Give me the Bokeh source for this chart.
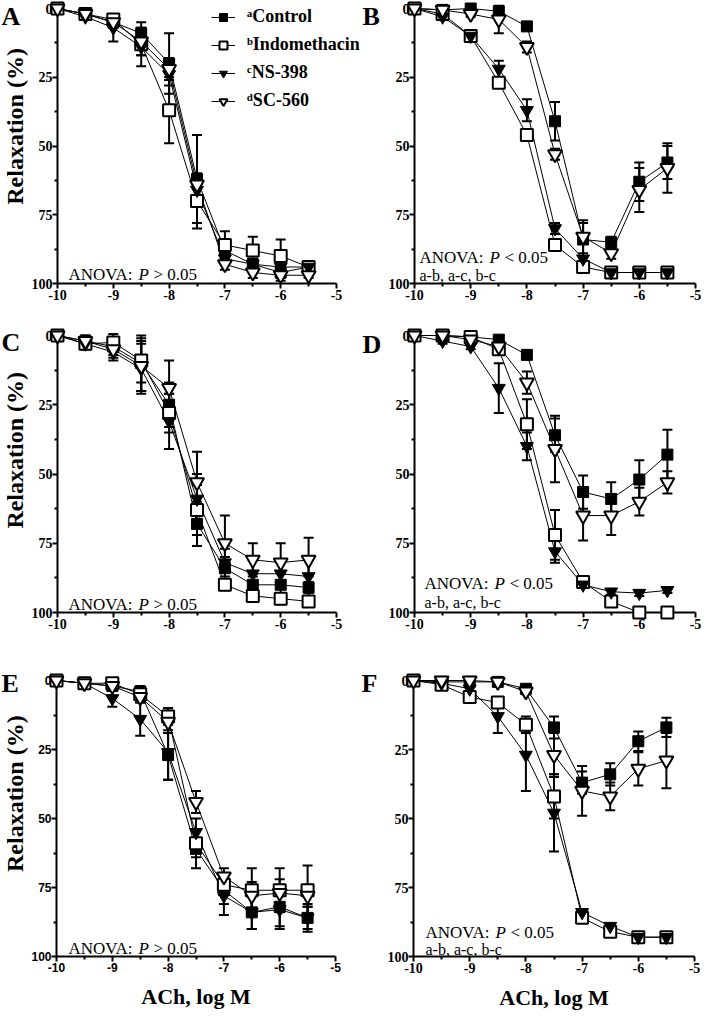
import math
from bokeh.plotting import figure
from bokeh.models import (Range1d, FixedTicker, Whisker, TeeHead, ColumnDataSource,
                          Label, Legend, LegendItem)
from bokeh.layouts import row, column
from bokeh.embed import file_html
from bokeh.resources import INLINE

# ---------------- data ----------------
log_ach = [-10.0, -9.5, -9.0, -8.5, -8.0, -7.5, -7.0, -6.5, -6.0, -5.5]
series_labels = ["\u1d43Control", "\u1d47Indomethacin", "\u1d9cNS-398", "\u1d48SC-560"]
x_ticks = [-10, -9, -8, -7, -6, -5]
x_minor_ticks = [-9.5, -8.5, -7.5, -6.5, -5.5]
y_ticks = [0, 25, 50, 75, 100]
y_minor_ticks = [12.5, 37.5, 62.5, 87.5]

a_control = [0, 2, 5, 9, 20, 62, 88, 93, 96, 94]
a_control_sem = [0, 1, 2, 4, 11, 16, 3, 2, 2, 2]
a_indo = [0, 2, 4, 13, 37, 70, 86, 88, 90, 94]
a_indo_sem = [0, 1, 2, 4, 12, 10, 5, 5, 6, 2]
a_ns = [0, 3, 7, 14, 24, 66, 91, 93, 94, 94]
a_ns_sem = [0, 1, 5, 7, 4, 5, 2, 2, 2, 1]
a_sc = [0, 2, 5, 12, 22, 64, 93, 96, 97, 97]
a_sc_sem = [0, 1, 2, 5, 4, 4, 2, 2, 2, 1]

b_control = [0, 0.5, 0, 1, 6.5, 41, 84, 85, 63, 56]
b_control_sem = [0, 0.5, 0.5, 1, 1, 7, 6, 2, 7, 6]
b_indo = [0, 2, 10, 27, 46, 86, 94, 96, 96, 96]
b_indo_sem = [0, 1, 1, 1, 1, 1, 1, 1, 1, 1]
b_ns = [0, 3, 10, 22, 37, 80, 91, 96, 96, 96]
b_ns_sem = [0, 1, 1, 3, 4, 2, 1, 1, 1, 1]
b_sc = [0, 0.5, 2, 4, 14, 53, 83, 89, 66, 58]
b_sc_sem = [0, 0.5, 1, 5, 2, 2, 6, 2, 8, 9]

c_control = [0, 2, 4, 10, 25, 68, 84, 90, 90, 91]
c_control_sem = [0, 2, 3, 10, 8, 8, 4, 4, 4, 4]
c_indo = [0, 3, 2.5, 9, 28, 63, 90, 94, 95, 96]
c_indo_sem = [0, 2, 3, 8, 7, 9, 2, 2, 2, 2]
c_ns = [0, 3, 6, 12, 31, 59, 82, 86, 86, 87]
c_ns_sem = [0, 2, 3, 9, 10, 9, 5, 5, 5, 6]
c_sc = [0, 2, 5, 11, 19, 53, 75, 81, 82, 81]
c_sc_sem = [0, 2, 3, 9, 10, 11, 10, 6, 7, 8]

d_control = [0, 0, 0.5, 1.5, 7, 36, 56.5, 59, 52, 43]
d_control_sem = [0, 0, 0.5, 1, 1, 6, 6, 6, 7, 9]
d_indo = [0, 0, 0.5, 5, 32, 72, 89, 96, 100, 100]
d_indo_sem = [0, 0, 0.5, 2, 9, 9, 1, 1, 0, 0]
d_ns = [0, 2, 4, 19, 40, 78, 90, 92.5, 93, 92]
d_ns_sem = [0, 1, 1, 9, 5, 4, 1, 1, 1, 1]
d_sc = [0, 0, 1.5, 4, 17, 41, 65, 65, 60, 53]
d_sc_sem = [0, 0, 1, 2, 4, 12, 9, 7, 5, 4]

e_control = [0, 1, 2, 4, 27, 61, 76, 84, 82, 86]
e_control_sem = [0, 1, 1, 2, 9, 7, 5, 6, 8, 5]
e_indo = [0, 1, 1, 5, 13, 59, 74, 76, 76, 76]
e_indo_sem = [0, 1, 1, 2, 3, 5, 3, 8, 8, 9]
e_ns = [0, 1, 6.5, 14, 26, 55, 78, 84, 83, 86]
e_ns_sem = [0, 1, 3, 6, 10, 5, 7, 6, 6, 4]
e_sc = [0, 1, 2, 6, 15, 44, 71, 78, 77, 78]
e_sc_sem = [0, 1, 1, 2, 4, 4, 3, 5, 5, 4]

f_control = [0, 0.5, 0.5, 0.5, 3, 17, 37, 34, 22, 17]
f_control_sem = [0, 0.5, 0.5, 0.5, 1, 4, 4, 4, 3.5, 3.5]
f_indo = [0, 1.5, 6, 8, 16, 42, 86, 91, 93, 93]
f_indo_sem = [0, 1, 1, 2, 3, 8, 1, 1, 1, 1]
f_ns = [0, 1, 3, 13, 27, 48, 84, 89, 93, 93]
f_ns_sem = [0, 1, 1, 6, 13, 14, 1, 1, 1, 1]
f_sc = [0, 0, 0, 0.5, 4, 27, 40, 42, 32, 29]
f_sc_sem = [0, 0, 0, 0.5, 1, 8, 9, 5, 6, 10]

# ---------------- styles / layout (page pixels) ----------------
STYLES = [
    dict(marker="square", size=11, fill_color="black", line_width=1),
    dict(marker="square", size=12, fill_color="white", line_width=2),
    dict(marker="inverted_triangle", size=13, fill_color="black", line_width=1),
    dict(marker="inverted_triangle", size=14, fill_color="white", line_width=2),
]
SERIF = "Liberation Serif"
SANS = "Liberation Sans"

COLS = [dict(L=62, R=341, fig_left=36, fig_w=330, gut_left=8, gut_w=28),
        dict(L=418, R=699, fig_left=390, fig_w=317, gut_left=366, gut_w=24)]
ROWS = [dict(fig_top=8, fig_h=327, Y0=16, B=291),
        dict(fig_top=335, fig_h=340, Y0=343, B=620),
        dict(fig_top=675, fig_h=341, Y0=688, B=964)]


def gutter(col, r, letter, letter_base, ylabel):
    c = COLS[col]
    rw = ROWS[r]
    x0, w = c["gut_left"], c["gut_w"]
    y0, h = rw["fig_top"], rw["fig_h"]
    g = figure(width=w, height=h, min_border_left=0, min_border_right=0,
               min_border_top=0, min_border_bottom=0,
               x_range=Range1d(x0, x0 + w), y_range=Range1d(y0 + h, y0),
               x_axis_type=None, y_axis_type=None, output_backend="svg",
               toolbar_location=None, title=None)
    g.outline_line_color = None
    g.background_fill_color = "white"
    g.border_fill_color = "white"
    g.add_layout(Label(x=x0 + 1, y=letter_base, text=letter, text_font=SERIF,
                       text_font_style="bold", text_font_size="26px",
                       text_baseline="alphabetic", text_align="left", text_color="black"))
    if ylabel:
        g.add_layout(Label(x=22, y=(rw["Y0"] + rw["B"]) / 2.0, text="Relaxation (%)",
                           angle=math.pi / 2, text_font=SERIF, text_font_style="bold",
                           text_font_size="24px", text_align="center",
                           text_baseline="middle", text_color="black"))
    return g


def panel(col, r, means, sems, anova_sign, anova_xy, post_hoc_xy, tick_font, tick_size,
          pad_r=0, xlabel=False, legend=False):
    c = COLS[col]
    rw = ROWS[r]
    L, R = c["L"], c["R"]
    Y0, B = rw["Y0"], rw["B"]
    xppu = (R - L) / 5.0
    yppu = (B - Y0) / 100.0
    frame_w = (R - L) + pad_r
    frame_h = B - rw["fig_top"]
    mbl = L - c["fig_left"]
    mbr = c["fig_w"] - mbl - frame_w
    mbb = rw["fig_h"] - frame_h

    def dx(px):
        return -10 + (px - L) / xppu

    def dy(py):
        return (py - Y0) / yppu

    p = figure(frame_width=frame_w, frame_height=frame_h,
               min_border_left=mbl, min_border_right=mbr,
               min_border_top=0, min_border_bottom=mbb,
               x_range=Range1d(-10, -5 + pad_r / xppu),
               y_range=Range1d(100, -(Y0 - rw["fig_top"]) / yppu),
               output_backend="svg", toolbar_location=None, title=None)
    p.xgrid.visible = False
    p.ygrid.visible = False
    p.outline_line_color = None
    p.background_fill_color = "white"
    p.border_fill_color = "white"

    xa = p.xaxis[0]
    xa.bounds = (-10, -5)
    xa.ticker = FixedTicker(ticks=x_ticks, minor_ticks=x_minor_ticks)
    xa.major_label_overrides = {t: str(t) for t in x_ticks}
    ya = p.yaxis[0]
    ya.bounds = (0, 100)
    ya.ticker = FixedTicker(ticks=y_ticks, minor_ticks=y_minor_ticks)
    for ax in (xa, ya):
        ax.axis_line_width = 2
        ax.axis_line_color = "black"
        ax.major_tick_line_width = 2
        ax.major_tick_line_color = "black"
        ax.minor_tick_line_width = 2
        ax.minor_tick_line_color = "black"
        ax.major_tick_out = 5
        ax.major_tick_in = 0
        ax.minor_tick_out = 3
        ax.minor_tick_in = 0
        ax.major_label_standoff = 0
        ax.major_label_text_font = tick_font
        ax.major_label_text_font_size = tick_size
        ax.major_label_text_font_style = "bold"
        ax.major_label_text_color = "black"
    xa.major_label_standoff = 1
    if xlabel:
        xa.axis_label = "ACh, log M"
        xa.axis_label_text_font = SERIF
        xa.axis_label_text_font_style = "bold"
        xa.axis_label_text_font_size = "22px"
        xa.axis_label_text_color = "black"
        xa.axis_label_standoff = 9

    # error bars
    for m, s in zip(means, sems):
        xs = [x for x, e in zip(log_ach, s) if e > 0]
        up = [v + e for v, e in zip(m, s) if e > 0]
        lo = [v - e for v, e in zip(m, s) if e > 0]
        wsrc = ColumnDataSource(dict(x=xs, upper=up, lower=lo))
        w = Whisker(source=wsrc, base="x", upper="upper", lower="lower",
                    line_color="black", line_width=2, level="underlay",
                    upper_head=TeeHead(size=10, line_width=2, line_color="black"),
                    lower_head=TeeHead(size=10, line_width=2, line_color="black"))
        p.add_layout(w)

    srcs = [ColumnDataSource(dict(x=log_ach, y=m)) for m in means]
    lines = [p.line("x", "y", source=s, line_color="black", line_width=1) for s in srcs]
    marks = []
    for s, st in zip(srcs, STYLES):
        marks.append(p.scatter("x", "y", source=s, marker=st["marker"], size=st["size"],
                               fill_color=st["fill_color"], line_color="black",
                               line_width=st["line_width"], level="overlay"))

    if legend:
        items = [LegendItem(label=lab, renderers=[ln, mk])
                 for lab, ln, mk in zip(series_labels, lines, marks)]
        vx = 209 - L + 7
        vy = B - 119
        lg = Legend(items=items, location=(vx, vy), padding=0, margin=0,
                    border_line_color=None, background_fill_alpha=0,
                    glyph_width=24, glyph_height=20, label_height=20,
                    label_standoff=12, spacing=7,
                    label_text_font=SERIF, label_text_font_style="bold",
                    label_text_font_size="18px", label_text_color="black")
        p.add_layout(lg)

    ax_, ay_ = anova_xy
    p.add_layout(Label(x=dx(ax_), y=dy(ay_), text="ANOVA:", text_font=SERIF,
                       text_font_size="17px", text_baseline="alphabetic", text_color="black"))
    p.add_layout(Label(x=dx(ax_), y=dy(ay_), x_offset=70, text="P", text_font=SERIF,
                       text_font_style="italic", text_font_size="17px",
                       text_baseline="alphabetic", text_color="black"))
    p.add_layout(Label(x=dx(ax_), y=dy(ay_), x_offset=85, text=anova_sign + " 0.05",
                       text_font=SERIF, text_font_size="17px",
                       text_baseline="alphabetic", text_color="black"))
    if post_hoc_xy is not None:
        hx, hy = post_hoc_xy
        p.add_layout(Label(x=dx(hx), y=dy(hy), text="a-b, a-c, b-c", text_font=SERIF,
                           text_font_size="16px", text_baseline="alphabetic",
                           text_color="black"))
    return p


B1, B2, B3 = ROWS[0]["B"], ROWS[1]["B"], ROWS[2]["B"]

gA = gutter(0, 0, "A", 26, True)
pA = panel(0, 0, [a_control, a_indo, a_ns, a_sc],
           [a_control_sem, a_indo_sem, a_ns_sem, a_sc_sem],
           ">", (73, B1 - 9), None, SERIF, "14px", pad_r=25, legend=True)
gB = gutter(1, 0, "B", 26, False)
pB = panel(1, 0, [b_control, b_indo, b_ns, b_sc],
           [b_control_sem, b_indo_sem, b_ns_sem, b_sc_sem],
           "<", (423, B1 - 26), (423, B1 - 8), SERIF, "14px")

gC = gutter(0, 1, "C", 353, True)
pC = panel(0, 1, [c_control, c_indo, c_ns, c_sc],
           [c_control_sem, c_indo_sem, c_ns_sem, c_sc_sem],
           ">", (73, B2 - 8), None, SERIF, "14px")
gD = gutter(1, 1, "D", 355, False)
pD = panel(1, 1, [d_control, d_indo, d_ns, d_sc],
           [d_control_sem, d_indo_sem, d_ns_sem, d_sc_sem],
           "<", (428, B2 - 29), (428, B2 - 10), SERIF, "14px")

gE = gutter(0, 2, "E", 694, True)
pE = panel(0, 2, [e_control, e_indo, e_ns, e_sc],
           [e_control_sem, e_indo_sem, e_ns_sem, e_sc_sem],
           ">", (74, B3 - 8), None, SANS, "12px", xlabel=True)
gF = gutter(1, 2, "F", 694, False)
pF = panel(1, 2, [f_control, f_indo, f_ns, f_sc],
           [f_control_sem, f_indo_sem, f_ns_sem, f_sc_sem],
           "<", (430, B3 - 24), (430, B3 - 7), SERIF, "14px", xlabel=True)

layout = column(row(gA, pA, gB, pB), row(gC, pC, gD, pD), row(gE, pE, gF, pF))
open("out.html", "w").write(file_html(layout, INLINE))
